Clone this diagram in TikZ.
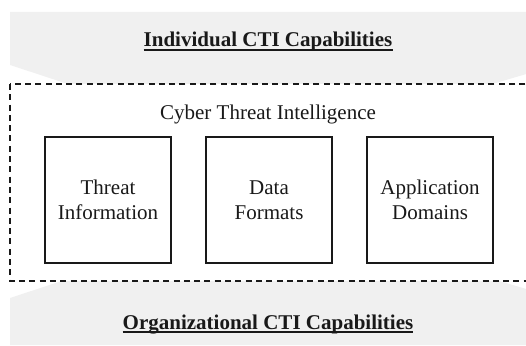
\documentclass[tikz,border=0pt]{standalone}
\usepackage{fontspec}
\setmainfont{Liberation Serif}
\begin{document}
\begin{tikzpicture}[x=1pt,y=1pt,
  band/.style={fill=bandgray,draw=none},
  capbox/.style={draw=ink,line width=1.8pt,minimum width=126pt,minimum height=126pt,
    inner sep=0pt,align=center,font=\fontsize{21}{25}\selectfont,text=ink},
  heading/.style={font=\fontsize{21}{25}\selectfont\bfseries,text=ink,inner sep=0pt,anchor=base},
  uline/.style={draw=ink,line width=1.6pt}]
\definecolor{bandgray}{RGB}{240,240,240}
\definecolor{ink}{RGB}{25,25,25}
\useasboundingbox (0,0) rectangle (526,345);
\clip (0,0) rectangle (526,345);

% grey chevron bands above and below the intelligence frame
\fill[band] (10,333) -- (540,333) -- (540,275) -- (268,195) -- (10,280) -- cycle;
\fill[band] (10,0) -- (540,0) -- (540,52) -- (268,132) -- (10,47) -- cycle;

% dashed frame around the three CTI components
\draw[fill=white,draw=ink,line width=1.8pt,dash pattern=on 6pt off 4.3pt]
  (10,261) rectangle (529,64);

\node[font=\fontsize{21}{25}\selectfont,text=ink,inner sep=0pt,anchor=base] (cti) at (268,225) {Cyber Threat Intelligence};

\node[capbox] (info) at (108,145) {Threat\\Information};
\node[capbox] (fmt) at (269,145) {Data\\Formats};
\node[capbox] (dom) at (430,145) {Application\\Domains};

\node[heading] (ind) at (268,298) {Individual CTI Capabilities};
\draw[uline] ([yshift=-3pt]ind.base west) -- ([yshift=-3pt]ind.base east);

\node[heading] (org) at (268,16) {Organizational CTI Capabilities};
\draw[uline] ([yshift=-3pt]org.base west) -- ([yshift=-3pt]org.base east);
\end{tikzpicture}
\end{document}
